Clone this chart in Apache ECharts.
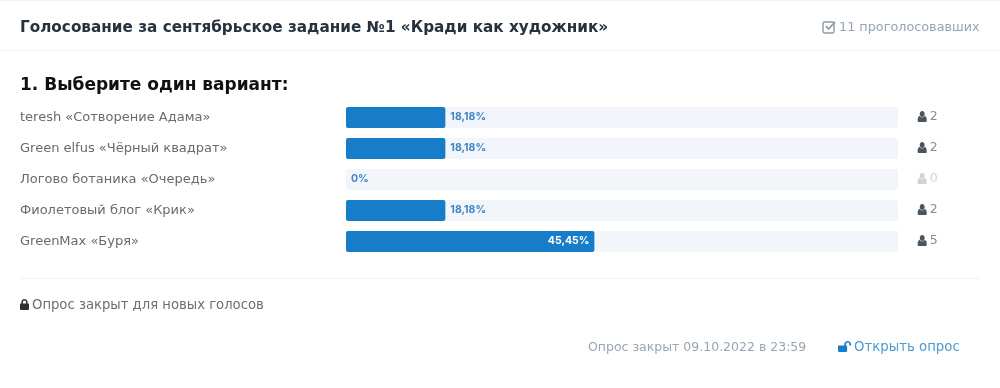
<!DOCTYPE html>
<html><head><meta charset="utf-8">
<style>html,body{margin:0;padding:0;background:#fff}#c{width:1000px;height:388px}</style>
<script src="https://cdn.jsdelivr.net/npm/echarts@6/dist/echarts.min.js"></script>
</head><body><div id="c"></div>
<script>
const categories = ['teresh «Сотворение Адама»','Green elfus «Чёрный квадрат»','Логово ботаника «Очередь»','Фиолетовый блог «Крик»','GreenMax «Буря»'];
const percents = [18.18,18.18,0,18.18,45.45];
const votes = [2,2,0,2,5];
const FONT = '"DejaVu Sans", sans-serif';
const USER = 'path://M12 0C7.500 0 5.500 3 5.500 6.500S7.500 13 12 13 18.500 10 18.500 6.500 16.500 0 12 0zM5 10.500C1.500 12 0 15 0 19V22C0 23.500 1 24 2 24H22C23 24 24 23.500 24 22V19C24 15 22.500 12 19 10.500 17 13 15 14 12 14S7 13 5 10.500z';
const LOCK = 'M3 10V7C3 3 6 0 10 0S17 3 17 7V10H18C19 10 20 11 20 12V22C20 23 19 24 18 24H2C1 24 0 23 0 22V12C0 11 1 10 2 10zM6.500 10H13.500V7C13.500 5 12 3.500 10 3.500S6.500 5 6.500 7z';
const UNLOCK = 'M2 10H13V7C13 3 16 0 20 0S27 3 27 7V10H23.500V7C23.500 5 22 3.500 20 3.500S16.500 5 16.500 7V10H17C18 10 19 11 19 12V22C19 23 18 24 17 24H2C1 24 0 23 0 22V12C0 11 1 10 2 10z';
const CHECK_BOX = 'M3 1H15C16.500 1 17.500 2 17.500 3.500V15C17.500 16.500 16.500 17.500 15 17.500H3C1.500 17.500 .5 16.500 .5 15V3.500C.5 2 1.500 1 3 1z';
const CHECK_TICK = 'M4.500 8L8.500 12 18.500 2.500';
const text = (x,y,t,size,color,weight) => ({type:'text',x,y,style:{text:t,font:`${weight||400} ${size}px ${FONT}`,fill:color,textAlign:'left',textVerticalAlign:'middle'}});
const rule = (y,h,color,x,w) => ({type:'rect',shape:{x:x||0,y,width:w||1000,height:h},style:{fill:color}});
const icons = [
  [LOCK,20,299,9,11,'#2b2f36',0],
  [UNLOCK,838,341,13,11,'#187dc9',0],
  [CHECK_BOX,823,22,11,11,'#8c99a8',1],
  [CHECK_TICK,826,22,9,7,'#8c99a8',2]
];
const chart = echarts.init(document.getElementById('c'),null,{renderer:'canvas'});
chart.setOption({
  animation:false,
  backgroundColor:'#fff',
  textStyle:{fontFamily:FONT},
  grid:[{left:346,top:102,width:552,height:155},{left:918,top:102,width:30,height:155}],
  xAxis:[{type:'value',gridIndex:0,min:0,max:101,show:false},{type:'value',gridIndex:1,min:0,max:100,show:false}],
  yAxis:[
    {type:'category',gridIndex:0,inverse:true,data:categories,axisLine:{show:false},axisTick:{show:false},
     axisLabel:{align:'left',margin:326,color:'#6a6a6a',fontSize:13,fontFamily:FONT,padding:[3,0,0,0]}},
    {type:'category',gridIndex:1,inverse:true,data:categories,show:false}
  ],
  series:[
    {type:'bar',xAxisIndex:0,yAxisIndex:0,barWidth:21,showBackground:true,
     backgroundStyle:{color:'#f2f5f9',borderRadius:2},
     itemStyle:{color:'#187dc9',borderRadius:2},
     data:percents.map(v=>({value:v,label:{
       show:true,position:v>30?'insideRight':'right',distance:5,offset:[0,-1],
       color:v>30?'#fff':'#3f86c8',fontSize:10.5,fontWeight:700,fontFamily:'Inter, sans-serif',
       formatter:String(v).replace('.',',')+'%'}}))},
    {type:'scatter',xAxisIndex:1,yAxisIndex:1,symbol:USER,symbolSize:[9,11],symbolOffset:[0,-1],
     data:votes.map((v,i)=>({
       value:[14,categories[i]],
       itemStyle:{color:v?'#1f2a36':'#c4c8cc'},
       label:{show:true,position:'right',distance:3,offset:[0,0],formatter:String(v),fontSize:12.5,fontFamily:FONT,
              color:v?'#6f6f6f':'#c4c8cc'}}))},
    {type:'custom',coordinateSystem:'none',silent:true,data:icons.map((_,i)=>i),
     renderItem:(p)=>{const k=icons[p.dataIndex];return {type:'path',
       shape:{pathData:k[0],layout:'cover',x:k[1],y:k[2],width:k[3],height:k[4]},
       style:k[6]?{fill:'none',stroke:k[5],lineWidth:k[6]==1?1.4:1.8}:{fill:k[5]}};}}
  ],
  graphic:[
    rule(0,1,'#f1f3f6'),rule(50,1,'#f1f3f6'),rule(278,1,'#f1f3f6',20,960),
    text(20,28,'Голосование за сентябрьское задание №1 «Кради как художник»',15.25,'#26323d',700),
    text(839,28,'11 проголосовавших',12.8,'#98a4b3',400),
    text(20,86,'1. Выберите один вариант:',17,'#111',700),
    text(32,306,'Опрос закрыт для новых голосов',13.2,'#6a6f76',400),
    text(588,348,'Опрос закрыт 09.10.2022 в 23:59',12.5,'#9aa5b4',400),
    text(854,348,'Открыть опрос',13.3,'#4e9ad4',400)
  ]
});
</script></body></html>
